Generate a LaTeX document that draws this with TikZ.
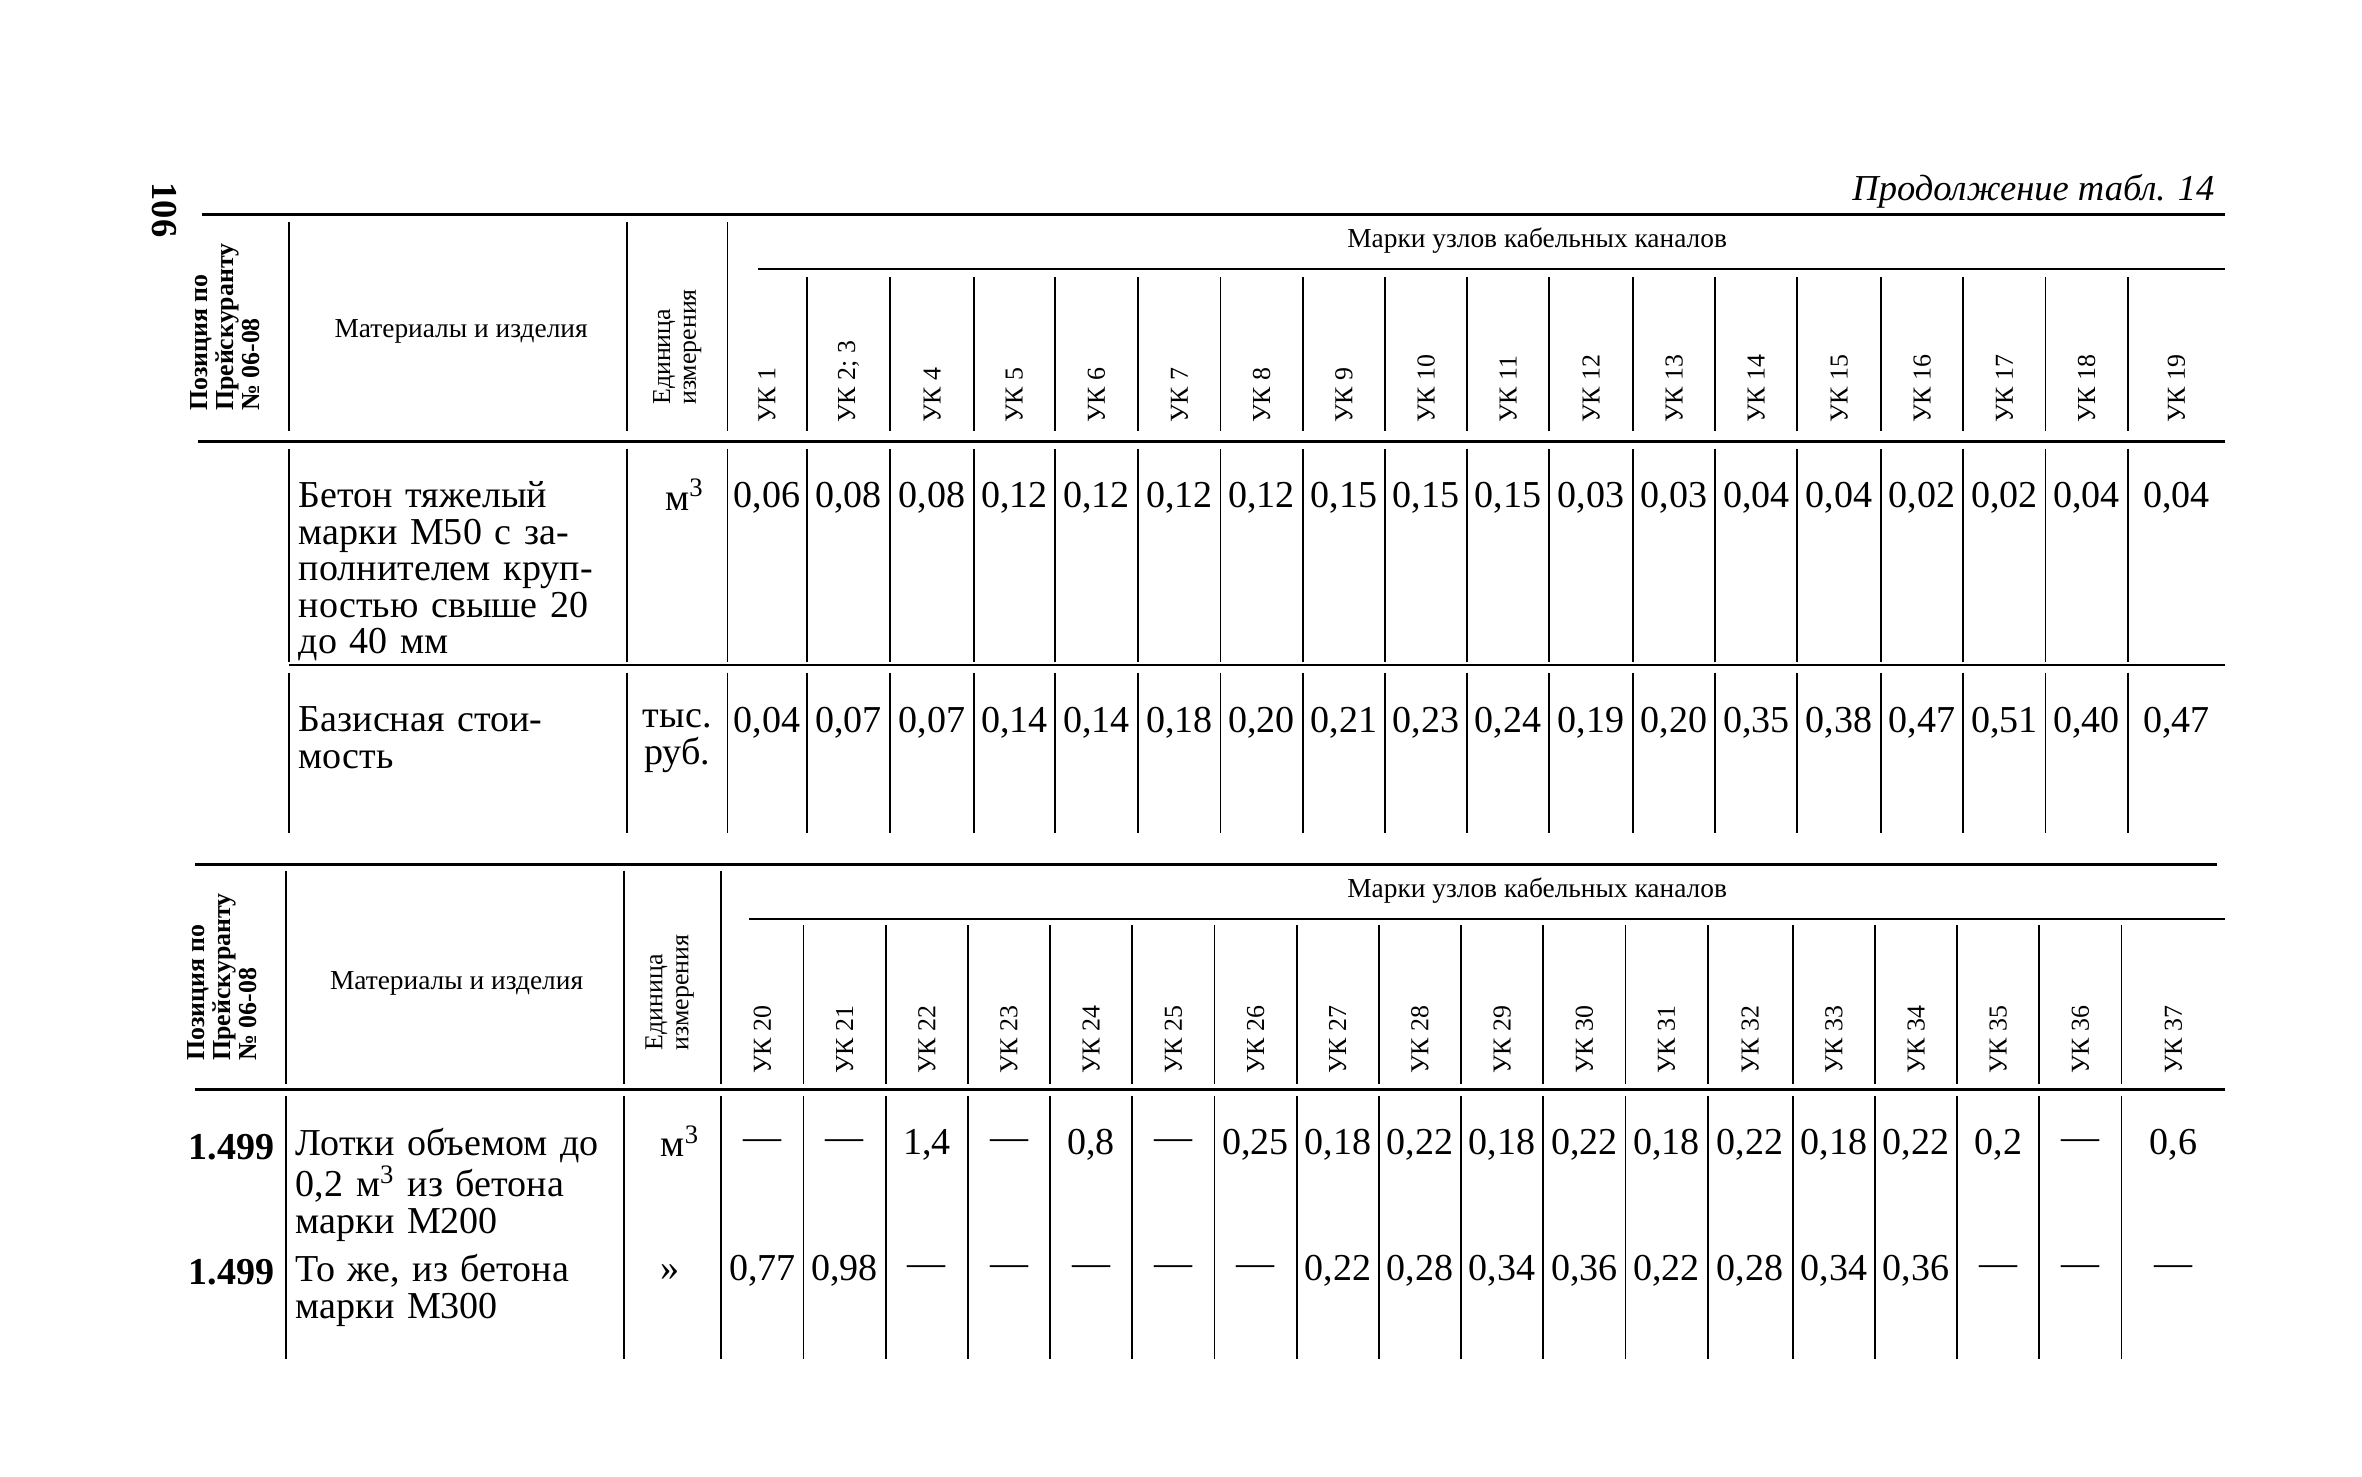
\documentclass[tikz,border=0pt]{standalone}
\usepackage{fontspec}
\setmainfont{Liberation Serif}
\begin{document}
\begin{tikzpicture}[x=0.5pt,y=-0.5pt,
  ln/.style={line width=0.6pt},
  thk/.style={line width=1.1pt},
  val/.style={font=\fontsize{12.5}{14}\selectfont,inner sep=0pt},
  hd/.style={font=\fontsize{9}{10}\selectfont,inner sep=0pt},
  uk/.style={font=\fontsize{8.5}{9}\selectfont,rotate=90,inner sep=0pt},
  posn/.style={font=\bfseries\fontsize{8.5}{8.5}\selectfont,rotate=90,align=left,inner sep=0pt},
  ed/.style={font=\fontsize{8.5}{8.5}\selectfont,rotate=90,align=left,inner sep=0pt},
  rtext/.style={font=\fontsize{12.5}{12}\selectfont,text width=107pt,align=left,inner sep=0pt,anchor=north west}]
\useasboundingbox (0,0) rectangle (1552,970);
\node[font=\bfseries\fontsize{12}{12}\selectfont,rotate=-90] (pg) at (108,138) {106};
\node[font=\itshape\fontsize{12}{12}\selectfont,anchor=east] (cont) at (1462,126) {Продолжение табл. 14};
% ===== top table =====
\draw[thk] (133,141) -- (1462,141);
\draw[thk] (130,290) -- (1462,290);
\foreach \x in {190,412,478} \draw[ln] (\x,146) -- (\x,283);
\draw[ln] (498,177) -- (1462,177);
\node[hd] (th) at (1010,158) {Марки узлов кабельных каналов};
\node[posn] (tp) at (148,215) {Позиция по\\Прейскуранту\\№ 06-08};
\node[hd] (tm) at (303,218) {Материалы и изделия};
\node[ed] (te) at (445,228) {Единица\\измерения};
\def\TB{478,530,585,640,693,748,802,856,910,964,1018,1073,1127,1181,1236,1290,1344,1398,1462}
\foreach \x in {530,585,640,693,748,802,856,910,964,1018,1073,1127,1181,1236,1290,1344,1398} {
  \draw[ln] (\x,182) -- (\x,283);
  \draw[ln] (\x,295) -- (\x,435);
  \draw[ln] (\x,442) -- (\x,547);}
\foreach \x in {190,412,478} {\draw[ln] (\x,295) -- (\x,435); \draw[ln] (\x,442) -- (\x,547);}
\draw[ln] (190,437) -- (1462,437);
\foreach \l [count=\i] in {УК 1,{УК 2; 3},УК 4,УК 5,УК 6,УК 7,УК 8,УК 9,УК 10,УК 11,УК 12,УК 13,УК 14,УК 15,УК 16,УК 17,УК 18,УК 19} {
  \pgfmathsetmacro\xa{{\TB}[\i-1]}\pgfmathsetmacro\xb{{\TB}[\i]}
  \node[uk,anchor=west] (tu\i) at ({(\xa+\xb)/2},278) {\l};}
\foreach \v [count=\i] in {{0,06},{0,08},{0,08},{0,12},{0,12},{0,12},{0,12},{0,15},{0,15},{0,15},{0,03},{0,03},{0,04},{0,04},{0,02},{0,02},{0,04},{0,04}} {
  \pgfmathsetmacro\xa{{\TB}[\i-1]}\pgfmathsetmacro\xb{{\TB}[\i]}
  \node[val] (ta\i) at ({(\xa+\xb)/2},327) {\v};}
\foreach \v [count=\i] in {{0,04},{0,07},{0,07},{0,14},{0,14},{0,18},{0,20},{0,21},{0,23},{0,24},{0,19},{0,20},{0,35},{0,38},{0,47},{0,51},{0,40},{0,47}} {
  \pgfmathsetmacro\xa{{\TB}[\i-1]}\pgfmathsetmacro\xb{{\TB}[\i]}
  \node[val] (tb\i) at ({(\xa+\xb)/2},475) {\v};}
\node[rtext] (r1) at (196,316) {\makebox[\linewidth][s]{Бетон тяжелый}\\\makebox[\linewidth][s]{марки М50 с за-}\\\makebox[\linewidth][s]{полнителем круп-}\\\makebox[\linewidth][s]{ностью свыше 20}\\до 40 мм};
\node[val] (u1) at (450,325) {м\textsuperscript{3}};
\node[rtext] (r2) at (196,464) {\makebox[\linewidth][s]{Базисная стои-}\\мость};
\node[val,align=center,font=\fontsize{12.5}{12}\selectfont] (u2) at (445,487) {тыс.\\руб.};
% ===== bottom table =====
\draw[thk] (128,568) -- (1457,568);
\draw[thk] (128,716) -- (1462,716);
\foreach \x in {188,410,474} \draw[ln] (\x,572) -- (\x,712);
\draw[ln] (492,604) -- (1462,604);
\node[hd] (bh) at (1010,585) {Марки узлов кабельных каналов};
\node[posn] (bp) at (146,642) {Позиция по\\Прейскуранту\\№ 06-08};
\node[hd] (bm) at (300,646) {Материалы и изделия};
\node[ed] (be) at (440,652) {Единица\\измерения};
\def\BB{474,528,582,636,690,744,798,852,906,960,1014,1068,1122,1178,1232,1286,1340,1394,1462}
\foreach \x in {528,582,636,690,744,798,852,906,960,1014,1068,1122,1178,1232,1286,1340,1394} {
  \draw[ln] (\x,608) -- (\x,712);
  \draw[ln] (\x,720) -- (\x,893);}
\foreach \x in {188,410,474} \draw[ln] (\x,720) -- (\x,893);
\foreach \i in {20,...,37} {
  \pgfmathsetmacro\xa{{\BB}[\i-20]}\pgfmathsetmacro\xb{{\BB}[\i-19]}
  \node[uk,anchor=west] (bu\i) at ({(\xa+\xb)/2},706) {УК \i};}
\foreach \v [count=\i] in {—,—,{1,4},—,{0,8},—,{0,25},{0,18},{0,22},{0,18},{0,22},{0,18},{0,22},{0,18},{0,22},{0,2},—,{0,6}} {
  \pgfmathsetmacro\xa{{\BB}[\i-1]}\pgfmathsetmacro\xb{{\BB}[\i]}
  \node[val] (ba\i) at ({(\xa+\xb)/2},752) {\v};}
\foreach \v [count=\i] in {{0,77},{0,98},—,—,—,—,—,{0,22},{0,28},{0,34},{0,36},{0,22},{0,28},{0,34},{0,36},—,—,—} {
  \pgfmathsetmacro\xa{{\BB}[\i-1]}\pgfmathsetmacro\xb{{\BB}[\i]}
  \node[val] (bb\i) at ({(\xa+\xb)/2},835) {\v};}
\node[val,font=\bfseries\fontsize{12.5}{14}\selectfont] (p1) at (152,754) {1.499};
\node[val,font=\bfseries\fontsize{12.5}{14}\selectfont] (p2) at (152,836) {1.499};
\node[rtext] (r3) at (194,741) {\makebox[\linewidth][s]{Лотки объемом до}\\\makebox[\linewidth][s]{0,2 м\textsuperscript{3} из бетона}\\марки М200};
\node[val] (u3) at (447,750) {м\textsuperscript{3}};
\node[rtext] (r4) at (194,824) {\makebox[\linewidth][s]{То же, из бетона}\\марки М300};
\node[val] (u4) at (440,836) {»};
\end{tikzpicture}
\end{document}
